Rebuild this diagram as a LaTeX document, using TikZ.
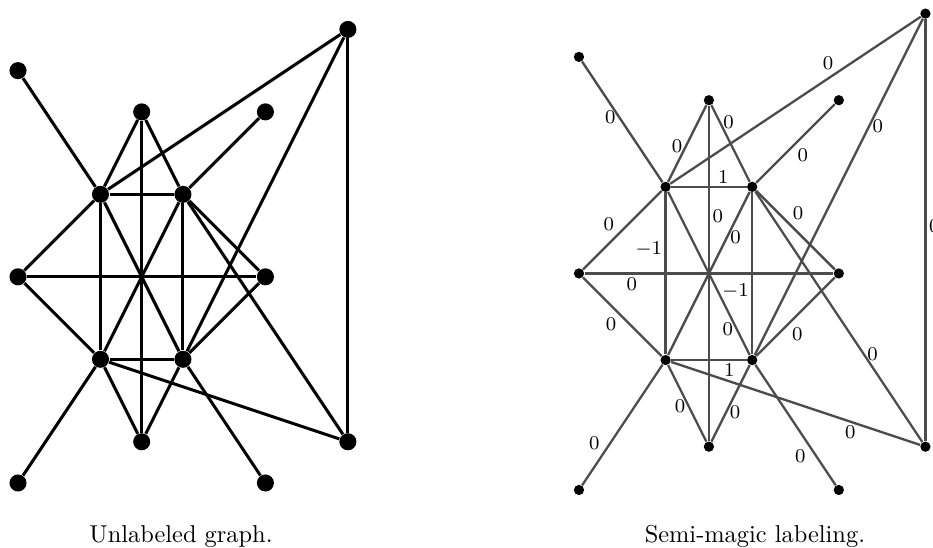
\documentclass[tikz,border=0pt]{standalone}
\usepackage{tikz}
\tikzset{
  plainvertex/.style={circle, fill=black, inner sep=0pt, minimum size=7pt},
  plainedge/.style={line width=1.25pt, draw=black},
  magicvertex/.style={circle, fill=black, inner sep=0pt, minimum size=4.2pt},
  magicedge/.style={line width=0.95pt, draw=black!70},
  edgelabel/.style={font=\footnotesize, inner sep=1pt, text=black},
  figcaption/.style={anchor=base, font=\normalsize}
}

\begin{document}
\begin{tikzpicture}
  \useasboundingbox (0,0) rectangle (382.4pt,224.6pt);

  % unlabeled graph
  \begin{scope}[shift={(7.38pt,26.64pt)}, x=16.9pt, y=16.9pt]
    \node[plainvertex] (utl) at (0,10) {};
    \node[plainvertex] (utop) at (3,9) {};
    \node[plainvertex] (utr) at (6,9) {};
    \node[plainvertex] (ufar) at (8,11) {};
    \node[plainvertex] (ua) at (2,7) {};
    \node[plainvertex] (ub) at (4,7) {};
    \node[plainvertex] (ul) at (0,5) {};
    \node[plainvertex] (ur) at (6,5) {};
    \node[plainvertex] (uc) at (2,3) {};
    \node[plainvertex] (ud) at (4,3) {};
    \node[plainvertex] (ubot) at (3,1) {};
    \node[plainvertex] (ufarb) at (8,1) {};
    \node[plainvertex] (ubl) at (0,0) {};
    \node[plainvertex] (ubr) at (6,0) {};

    \draw[plainedge] (utl) -- (ua);
    \draw[plainedge] (utop) -- (ua);
    \draw[plainedge] (utop) -- (ub);
    \draw[plainedge] (ua) -- (ufar);
    \draw[plainedge] (ub) -- (utr);
    \draw[plainedge] (ufar) -- (ud);
    \draw[plainedge] (ua) -- (ub);
    \draw[plainedge] (ufar) -- (ufarb);
    \draw[plainedge] (ua) -- (ul);
    \draw[plainedge] (ua) -- (uc);
    \draw[plainedge] (utop) -- (ubot);
    \draw[plainedge] (ub) -- (uc);
    \draw[plainedge] (ub) -- (ur);
    \draw[plainedge] (ul) -- (ur);
    \draw[plainedge] (ul) -- (uc);
    \draw[plainedge] (ub) -- (ud);
    \draw[plainedge] (ua) -- (ud);
    \draw[plainedge] (ud) -- (ur);
    \draw[plainedge] (ub) -- (ufarb);
    \draw[plainedge] (uc) -- (ud);
    \draw[plainedge] (uc) -- (ubot);
    \draw[plainedge] (ud) -- (ubot);
    \draw[plainedge] (uc) -- (ubl);
    \draw[plainedge] (ud) -- (ubr);
    \draw[plainedge] (uc) -- (ufarb);
  \end{scope}

  % semi-magic labeling
  \begin{scope}[shift={(237.3pt,23.77pt)}, x=17.75pt, y=17.75pt]
    \node[magicvertex] (stl) at (0,10) {};
    \node[magicvertex] (stop) at (3,9) {};
    \node[magicvertex] (str) at (6,9) {};
    \node[magicvertex] (sfar) at (8,11) {};
    \node[magicvertex] (sa) at (2,7) {};
    \node[magicvertex] (sb) at (4,7) {};
    \node[magicvertex] (sl) at (0,5) {};
    \node[magicvertex] (sr) at (6,5) {};
    \node[magicvertex] (sc) at (2,3) {};
    \node[magicvertex] (sd) at (4,3) {};
    \node[magicvertex] (sbot) at (3,1) {};
    \node[magicvertex] (sfarb) at (8,1) {};
    \node[magicvertex] (sbl) at (0,0) {};
    \node[magicvertex] (sbr) at (6,0) {};

    \draw[magicedge] (stl) -- node[edgelabel, pos=.46, left] {0} (sa);
    \draw[magicedge] (stop) -- node[edgelabel, pos=.54, left] {0} (sa);
    \draw[magicedge] (stop) -- node[edgelabel, pos=.22, right] {0} (sb);
    \draw[magicedge] (sa) -- node[edgelabel, pos=.63, above=2pt] {0} (sfar);
    \draw[magicedge] (sb) -- node[edgelabel, pos=.48, below right] {0} (str);
    \draw[magicedge] (sfar) -- node[edgelabel, pos=.32, right] {0} (sd);
    \draw[magicedge] (sa) -- node[edgelabel, pos=.69, above] {1} (sb);
    \draw[magicedge] (sfar) -- node[edgelabel, pos=.49, right] {0} (sfarb);
    \draw[magicedge] (sa) -- node[edgelabel, pos=.56, above left] {0} (sl);
    \draw[magicedge] (sa) -- node[edgelabel, pos=.35, left] {$-1$} (sc);
    \draw[magicedge] (stop) -- node[edgelabel, pos=.33, right] {0} (sbot);
    \draw[magicedge] (sb) -- node[edgelabel, pos=.28, right] {0} (sc);
    \draw[magicedge] (sb) -- node[edgelabel, pos=.42, above right] {0} (sr);
    \draw[magicedge] (sl) -- node[edgelabel, pos=.19, below] {0} (sr);
    \draw[magicedge] (sl) -- node[edgelabel, pos=.47, below left] {0} (sc);
    \draw[magicedge] (sb) -- node[edgelabel, pos=.61, left] {$-1$} (sd);
    \draw[magicedge] (sa) -- node[edgelabel, pos=.84, left] {0} (sd);
    \draw[magicedge] (sd) -- node[edgelabel, pos=.41, below right] {0} (sr);
    \draw[magicedge] (sb) -- node[edgelabel, pos=.65, right] {0} (sfarb);
    \draw[magicedge] (sc) -- node[edgelabel, pos=.77, below] {1} (sd);
    \draw[magicedge] (sc) -- node[edgelabel, pos=.54, left] {0} (sbot);
    \draw[magicedge] (sd) -- node[edgelabel, pos=.61, right] {0} (sbot);
    \draw[magicedge] (sc) -- node[edgelabel, pos=.74, above left] {0} (sbl);
    \draw[magicedge] (sd) -- node[edgelabel, pos=.67, below left] {0} (sbr);
    \draw[magicedge] (sc) -- node[edgelabel, pos=.72, below] {0} (sfarb);
  \end{scope}

  \node[figcaption] (capleft) at (74.2pt,2.3pt) {Unlabeled graph.};
  \node[figcaption] (capright) at (309.4pt,2.3pt) {Semi-magic labeling.};
\end{tikzpicture}
\end{document}
